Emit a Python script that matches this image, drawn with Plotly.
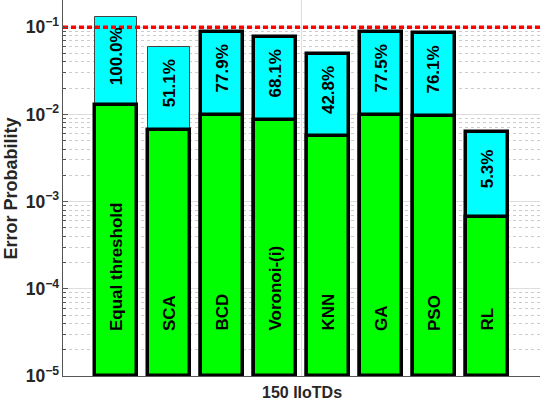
import numpy as np
import plotly.graph_objects as go

# values
methods = ['Equal threshold', 'SCA', 'BCD', 'Voronoi-(i)', 'KNN', 'GA', 'PSO', 'RL']
pct_labels = ['100.0%', '51.1%', '77.9%', '68.1%', '42.8%', '77.5%', '76.1%', '5.3%']
total_err = [0.130, 0.059, 0.0877, 0.0768, 0.0496, 0.0877, 0.0854, 0.0063]
green_err = [0.0128, 0.0067, 0.0099, 0.0087, 0.0056, 0.0099, 0.0096, 0.00067]
threshold = 0.1
y_floor = 1e-5
xpos = list(range(1, len(methods) + 1))

cyan_edge_w = [1, 1, 3.5, 3.5, 3.5, 3.5, 3.5, 3.5]
cyan_edge_c = ['#444', '#444', 'black', 'black', 'black', 'black', 'black', 'black']

font_main = 'Liberation Sans'

fig = go.Figure()

# cyan bars (full height)
fig.add_trace(go.Bar(
    x=xpos,
    y=[v - y_floor for v in total_err],
    base=y_floor,
    width=0.8,
    marker=dict(color='#00FFFF', line=dict(color=cyan_edge_c, width=cyan_edge_w)),
    hoverinfo='skip',
))

# green bars on top of them
fig.add_trace(go.Bar(
    x=xpos,
    y=[v - y_floor for v in green_err],
    base=y_floor,
    width=0.8,
    marker=dict(color='#00FF00', line=dict(color='black', width=3.5)),
    hoverinfo='skip',
))

# red threshold line
fig.add_trace(go.Scatter(
    x=[0, 9], y=[threshold, threshold], mode='lines',
    line=dict(color='#FF0000', width=3.5, dash='5px,3px'),
    hoverinfo='skip',
))

annots = []
for i, m in enumerate(methods):
    annots.append(dict(
        x=xpos[i], y=np.log10(y_floor), xref='x', yref='y',
        text=m, textangle=-90, showarrow=False,
        xanchor='center', yanchor='bottom', yshift=43,
        font=dict(family=font_main, size=17, color='black', weight='bold'),
    ))
    mid = 0.5 * (np.log10(green_err[i]) + np.log10(total_err[i]))
    annots.append(dict(
        x=xpos[i], y=mid, xref='x', yref='y',
        text=pct_labels[i], textangle=-90, showarrow=False,
        xanchor='center', yanchor='middle', yshift=5,
        font=dict(family=font_main, size=17, color='black', weight='bold'),
    ))

# x label sits just under the axis
annots.append(dict(
    x=4.5, y=-0.045, xref='x', yref='paper',
    text='150 IIoTDs', showarrow=False,
    xanchor='center', yanchor='middle',
    font=dict(family=font_main, size=16, color='#262626', weight='bold'),
))
# y title
annots.append(dict(
    x=-0.108, y=0.5, xref='paper', yref='paper',
    text='Error Probability', textangle=-90, showarrow=False,
    xanchor='center', yanchor='middle',
    font=dict(family=font_main, size=18, color='#262626', weight='bold'),
))

fig.update_layout(
    width=540, height=402,
    margin=dict(l=63, r=0, t=0, b=26),
    barmode='overlay',
    bargap=0,
    showlegend=False,
    plot_bgcolor='white',
    paper_bgcolor='white',
    annotations=annots,
    font=dict(family=font_main, color='#262626'),
)

fig.update_xaxes(
    range=[0, 9],
    tickvals=[4.5], ticktext=[''],
    showgrid=True, gridcolor='#dddddd', gridwidth=1,
    showline=True, linecolor='#555555', linewidth=1,
    ticks='', zeroline=False, automargin=False,
)

fig.update_yaxes(
    type='log',
    range=[-5, np.log10(0.205)],
    dtick=1,
    exponentformat='power',
    showgrid=True, gridcolor='#dddddd', gridwidth=1,
    showline=True, linecolor='#555555', linewidth=1,
    ticks='inside', ticklen=5, tickcolor='#555555',
    minor=dict(dtick='D1', showgrid=True, gridcolor='#cccccc', griddash='dot',
               ticks='inside', ticklen=3, tickcolor='#555555'),
    tickfont=dict(family=font_main, size=14, color='#262626', weight='bold'),
    automargin=False,
    zeroline=False,
)

# page body has a default margin; drop it so the figure fills the window
fig.write_html('out.html', config={'displayModeBar': False},
               post_script="document.body.style.margin='0';")
